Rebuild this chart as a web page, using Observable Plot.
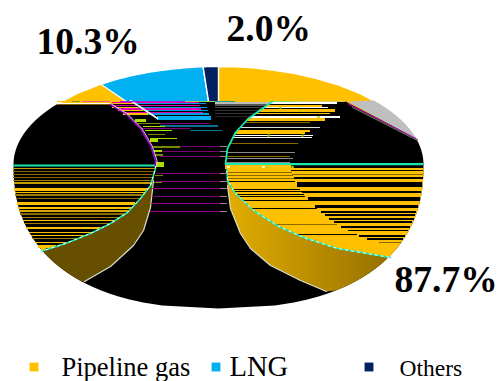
<!DOCTYPE html>
<html>
<head>
<meta charset="utf-8">
<style>
  html, body { margin: 0; padding: 0; background: #fff; }
  svg { display: block; }
</style>
<script src="https://cdn.jsdelivr.net/npm/d3@7"></script>
<script src="https://cdn.jsdelivr.net/npm/@observablehq/plot@0.6"></script>
</head>
<body>
<script>
// Supply mix, in percent
const categories = ["Pipeline gas", "LNG", "Others"];
const shares = [87.7, 10.3, 2.0];
const sliceColors = ["#FFC000", "#00B0F0", "#002060"];
const shareLabels = ["87.7%", "10.3%", "2.0%"];
const shareLabelX = [394, 36, 226];
const shareLabelY = [291, 53, 40];
const legendSwatchX = [33.5, 215.5, 368.5];
const legendTextX = [61, 229, 399];
const legendTextY = [375.3, 375, 375.3];
const legendTextSize = [26.5, 28.6, 23.5];

// Disc shape on the page
const cx = 218, cy = 164, rx = 205, ryBack = 98, ryFront = 144;

// Traced inner edges of the ring, as [x, y]
const leftCurve = [[155,165],[155,168],[150,185],[140,198],[127,212],[110,223],[90,233],[65,243],[40,251]];
const leftWall = [[84,281],[110,266],[133,245],[143,230],[150,207],[153,180]];
const rightCurve = [[226,165],[227,180],[235,193],[253,210],[278,226],[303,237],[337,248],[390,257]];
const rightWall = [[326,291],[300,280],[270,265],[250,248],[240,233],[230,208],[227,185]];
const leftArcY = [104,113,128,145,160,165], leftArcX = [110,125,140,150,155,155];
const rightArcY = [101,118,132,148,163], rightArcX = [272,248,235,227,225];
const goldLimitY = [168,183,198,205,224,232,240,246], goldLimitX = [290,296,307,313,337,352,371,392];

const BRN = "#8A6A00", DIM = "#C89B00", GOLD = "#FFC000", DARK = "#000000";
const TEAL = "#18E8B0", LIME = "#AADD00", OLIVE = "#7A8A00", MAG = "#E000B0", PURP = "#80007A", BLUE = "#0A6F96", GREY = "#8A8A8A";

// Horizontal streak rows: [y, thickness, colour]
const leftStripes = [[168,1.5,DIM],[171,1.5,BRN],[174,1.5,BRN],[177,1.5,BRN],[180,1.5,"#A07C00"],[182.5,1.5,DIM],[189,2.5,GOLD],[192,1.2,GOLD],[194.5,1.2,"#A07C00"],[198,1.5,BRN],[203,2.5,GOLD],[207.5,1.5,GOLD],[210.5,1.2,"#D8A800"],[213.5,1.5,BRN],[217,1.2,"#A07C00"],[220,1.5,GOLD],[223,1.2,"#A07C00"],[227.5,2.2,GOLD],[232,1.5,GOLD],[235,1.5,GOLD],[238,1.5,"#A07C00"],[242,1.5,GOLD],[246,3,GOLD],[249,3,GOLD]];
const rightBlackRows = [[166,2,DARK],[170,1.7,DARK],[174,1.2,BRN],[177,2,DARK],[184.2,5,DARK],[191.7,1.5,DARK],[198.8,4.3,DARK],[206.3,2.7,DARK],[211.3,1.7,DARK],[214.2,1.7,DARK],[218,2,DARK],[221.7,2,DARK],[226,2,DARK],[230,1.5,DARK],[235,2,DARK],[238.3,1.5,DARK],[242.3,1,BRN]];
const rightFullRows = [[172,1,BRN],[174.5,1,BRN],[178,1,BRN],[181,1,DARK],[188.5,1,DARK],[191,1,DARK],[193.5,1,DARK],[195.5,1,DARK],[200,1,DARK],[208,1,DARK],[224,1.5,BRN],[234,1,DARK]];
const centerRows = [[123,1.2,135,210,PURP],[125.5,1.2,160,218,BLUE],[128,1.2,140,190,PURP],[130,1.2,190,222,BLUE],[146,1.2,156,225,PURP],[150.7,1.2,158,226,PURP],[155.7,1.2,160,226,PURP],[173,1.2,156,226,PURP],[180.7,1.2,156,226,PURP],[188,1.2,152,226,"#A0008A"],[196,1.2,152,226,PURP],[203,1.2,151,226,"#A0008A"],[211,1.2,150,227,"#A0008A"]];
const centerEnds = [146,150.7,155.7,173,180.7,188,196,203,211];
const limeRows = [[120,3,135,146,LIME],[123,1.5,138,160,OLIVE],[126,1.5,143,165,LIME],[130,1.5,145,172,LIME],[134,1.5,148,165,OLIVE],[138,1.5,150,177,LIME],[140,2.5,150,158,LIME],[146.7,1.5,153,180,OLIVE],[150,2,154,162,LIME],[154,2,155,163,OLIVE],[164,5,156,164,LIME],[175,1.5,155,163,OLIVE],[182,1,154,162,OLIVE]];
const wedgeRowY = [101.8,105.2,108.6,112];
const wedgeRowEnd = [199,200,201,203];
const wedgeGapEnd = [206,207,208,209];
const upperRightRows = [[102.3,1.5,"#FFFFFF",337],[105,2,GOLD,322],[107.3,1.2,"#FFFFFF",328],[110,2.5,GOLD,335],[113,1.5,GOLD,330],[116.7,1.5,"#FFFFFF",340],[119,2.2,GOLD,325],[122,1.5,BRN,310],[126.7,1.2,"#DDDDDD",320],[130,2,GOLD,310],[132.5,1.2,GOLD,305],[135,1.2,"#FFFFFF",313],[137.3,1.2,"#FFFFFF",312],[142.7,1.2,BRN,298],[151.7,1.2,GREY,295],[155.7,1.2,BRN,290],[157.7,1.2,GREY,293],[161.7,1.2,GREY,290],[166.5,3.5,GOLD,291]];
const upperCenterRows = [[102.5,1.2,"#BBBBBB"],[104.5,1.2,"#555555"],[107,1.2,"#444444"],[110,1.2,"#333333"],[113,1,"#333333"],[116,1,"#2A2A2A"]];
const specks = [[228,166.5,"#FFFFFF"],[263,166.5,"#FFFFFF"],[267,166.5,LIME],[292,166.5,LIME],[300,110,LIME],[282,116.7,"#FFFFFF"],[318,116.7,LIME],[268,135,LIME],[302,135,LIME],[280,107,LIME]];
const bandRows = [[100.8,1.4,57,72,GOLD],[100.8,1.4,72,80,"#8A9A20"],[100.8,1.4,82,110,"#E86090"],[100.8,1.4,112,135,GOLD],[100.8,1.4,120,185,"#A020E0"],[100.8,1.4,185,215,"#9AD060"],[100.8,1.4,215,235,"#20A080"],[100.8,1.4,235,293,"#FFC000"],[100.8,1.4,270,293,"#90D860"],[100.8,1.4,293,345,"#C8D060"],[103,1.2,53,110,"#FFFFFF"]];

// Rim point for a signed angle in degrees clockwise from twelve o'clock;
// the view foreshortens angles near the back
const viewAngle = a => a * (0.56 + 0.0052 * Math.abs(a));
const rimPoint = deg => {
  const t = viewAngle(deg) * Math.PI / 180;
  return [cx + rx * Math.sin(t), cy - ryBack * Math.cos(t)];
};
// Half-width of the outline at a given height
const halfWidth = y => y <= cy
  ? rx * Math.sqrt(Math.max(0, 1 - ((cy - y) / ryBack) ** 2))
  : rx * Math.max(0, 1 - ((y - cy) / ryFront) ** 2.35) ** (1 / 2.35);
const outerLeft = y => cx - halfWidth(y);
const outerRight = y => cx + halfWidth(y);

const byY = pts => {
  const sorted = pts.slice().sort((a, b) => a[1] - b[1]);
  return d3.scaleLinear().domain(sorted.map(p => p[1])).range(sorted.map(p => p[0])).clamp(true);
};
const leftInner = byY(leftCurve);
const rightInner = byY(rightCurve);
const leftArc = d3.scaleLinear().domain(leftArcY).range(leftArcX).clamp(true);
const rightArc = d3.scaleLinear().domain(rightArcY).range(rightArcX).clamp(true);
const goldLimit = d3.scaleLinear().domain(goldLimitY).range(goldLimitX).clamp(true);
const whiteDiag = y => 130 + (y - 100) * 1.5;

// Back of the disc: the largest slice forms the rim, the two smaller wedges sit on top.
// Slices run clockwise from twelve o'clock, so the later ones lie just left of it.
const slicePoints = [];
const addWedge = (name, color, from, to) => {
  const pts = d3.range(0, 25).map(k => rimPoint(from + (to - from) * k / 24));
  for (const p of [[cx, cy], ...pts, [cx, cy]]) slicePoints.push({x: p[0], y: p[1], name, color});
};
const ends = d3.cumsum(shares);
addWedge(categories[0], sliceColors[0], -90, 90);
addWedge(categories[1], sliceColors[1], ends[0] * 3.6 - 360, ends[1] * 3.6 - 360);
addWedge(categories[2], sliceColors[2], ends[1] * 3.6 - 360, ends[2] * 3.6 - 360);

// Silhouette of the dark body below the back wedges
const body = [[outerLeft(104), 104], [110, 104], [130, 101], [345, 101]];
for (let y = 137; y <= 308; y += 3) body.push([outerRight(y), y]);
body.push([cx, 308]);
for (let y = 305; y >= 104; y -= 3) body.push([outerLeft(y), y]);

const greyPatch = [[347, 101]];
for (let y = 100; y <= 138; y += 2) greyPatch.push([outerRight(y), y]);

const rightFill = [...rightCurve];
for (let y = 257; y >= 165; y -= 3) rightFill.push([outerRight(y), y]);

const rightWedge = [...rightCurve];
for (let y = 257; y <= 291; y += 3) rightWedge.push([outerRight(y), y]);
rightWedge.push(...rightWall);

const leftWedge = [...leftCurve];
for (let y = 251; y <= 281; y += 3) leftWedge.push([outerLeft(y), y]);
leftWedge.push(...leftWall);

const poly = (pts, fill) => Plot.line(pts, {x: d => d[0], y: d => d[1], fill, stroke: "none"});
const edge = (pts, stroke, strokeWidth, extra = {}) =>
  Plot.line(pts, {x: d => d[0], y: d => d[1], stroke, strokeWidth, fill: "none", ...extra});
const rows = (data, x1, x2) => Plot.ruleY(data, {
  y: d => d[0], x1, x2, stroke: d => d[2], strokeWidth: d => d[1], shapeRendering: "crispEdges"
});
const spans = data => Plot.ruleY(data, {
  y: d => d[0], x1: d => d[2], x2: d => d[3], stroke: d => d[4], strokeWidth: d => d[1], shapeRendering: "crispEdges"
});

// Horizontal shading on the gold inner wall, left to right
const wallGradient = () => {
  const svg = d3.create("svg:g");
  const grad = svg.append("defs").append("linearGradient")
    .attr("id", "wall").attr("gradientUnits", "userSpaceOnUse")
    .attr("x1", 230).attr("x2", 390).attr("y1", 0).attr("y2", 0);
  grad.append("stop").attr("offset", 0).attr("stop-color", "#E0AC00");
  grad.append("stop").attr("offset", 1).attr("stop-color", "#957000");
  return svg.node();
};

const chart = Plot.plot({
  width: 499,
  height: 381,
  margin: 0,
  x: {domain: [0, 499], range: [0, 499], axis: null},
  y: {domain: [0, 381], range: [0, 381], axis: null},
  color: {type: "identity"},
  style: {background: "#fff"},
  marks: [
    wallGradient,
    // Back wedges
    Plot.line(slicePoints, {x: "x", y: "y", z: "name", fill: "color", stroke: "#fff", strokeWidth: 1.4}),
    // Dark body and the grey patch on the right
    poly(body, "#000"),
    poly(greyPatch, "#BFBFBF"),
    edge([[348,103.5],[417,139]], "#E000E0", 1),
    edge([[352,107],[417,140]], "#6FD060", 0.7),

    // Streaks on the left of the ring
    rows(leftStripes, d => outerLeft(d[0]), d => leftInner(d[0])),
    Plot.ruleY([165], {x1: outerLeft(165), x2: 155, stroke: TEAL, strokeWidth: 2.2}),

    // Gold face on the right, then its dark streaks
    poly(rightFill, GOLD),
    rows(rightFullRows, d => rightInner(d[0]), d => goldLimit(d[0])),
    rows(rightBlackRows, d => goldLimit(d[0]), d => outerRight(d[0])),
    Plot.ruleY([163.7], {x1: 225, x2: outerRight(164), stroke: TEAL, strokeWidth: 2.2}),

    // Inner walls
    poly(leftWedge, "#665000"),
    poly(rightWedge, "url(#wall)"),
    edge(leftWall, "#DDDDD0", 1.2),
    edge(rightWall, "#DDDDD0", 1.2),
    edge(leftCurve, TEAL, 1.5),
    edge(leftCurve, "#FFFFFF", 1, {strokeDasharray: "2 4"}),
    edge(rightCurve, TEAL, 1.5),
    edge(rightCurve, "#FFFFFF", 1, {strokeDasharray: "2 4"}),

    // Streaks across the centre
    spans(centerRows),
    Plot.ruleY(centerEnds, {x1: 220, x2: 227, stroke: GREY, strokeWidth: 1, shapeRendering: "crispEdges"}),
    spans(limeRows),

    // Alternating rows where the LNG wedge breaks up near the cut-off line
    Plot.ruleY(wedgeRowY, {y: d => d + 1.5, x1: y => leftArc(y), x2: y => whiteDiag(y), stroke: GOLD, strokeWidth: 1.3, shapeRendering: "crispEdges"}),
    Plot.ruleY(wedgeRowY, {y: d => d + 1.5, x1: y => whiteDiag(y), x2: (y, i) => wedgeGapEnd[i], stroke: "#00A0E0", strokeWidth: 1.2, shapeRendering: "crispEdges"}),
    Plot.ruleY(wedgeRowY, {x1: y => leftArc(y) + 2, x2: (y, i) => wedgeRowEnd[i], stroke: MAG, strokeWidth: 1.5, shapeRendering: "crispEdges"}),
    Plot.ruleY([117.5], {x1: 157, x2: 211, stroke: "#00B0F0", strokeWidth: 4.5, shapeRendering: "crispEdges"}),
    edge([[130,100],[157,118]], "#FFFFFF", 1.6),

    // Rows that run from the curve on the upper right
    rows(upperRightRows, d => rightArc(d[0]), d => d[3]),
    rows(upperCenterRows, 215, d => rightArc(d[0])),
    Plot.dot(specks, {x: d => d[0], y: d => d[1], r: 1.3, fill: d => d[2], stroke: "none"}),

    // Rim strip at the top
    spans(bandRows),

    // Curves bounding the hollow centre
    edge(d3.zip(leftArcX, leftArcY), "#A000D0", 1.6),
    edge(d3.zip(leftArcX, leftArcY).map(d => [d[0] + 1.5, d[1]]), "#FFFFFF", 0.8),
    edge(d3.zip(rightArcX, rightArcY), TEAL, 1.8),

    // Share labels
    Plot.text(shareLabels, {
      x: (d, i) => shareLabelX[i], y: (d, i) => shareLabelY[i], text: d => d,
      textAnchor: "start", lineAnchor: "bottom", fontFamily: "Liberation Serif",
      fontWeight: "bold", fontSize: 37.5, fill: "#000"
    }),
    // Legend
    Plot.dot(categories, {
      x: (d, i) => legendSwatchX[i], y: 366.5, symbol: "square", r: 5, fill: (d, i) => sliceColors[i], stroke: "none"
    }),
    ...categories.map((c, i) => Plot.text([c], {
      x: legendTextX[i], y: legendTextY[i], text: d => d,
      textAnchor: "start", lineAnchor: "bottom", fontFamily: "Liberation Serif",
      fontSize: legendTextSize[i], fill: "#000"
    }))
  ]
});
document.body.append(chart);
</script>
</body>
</html>
